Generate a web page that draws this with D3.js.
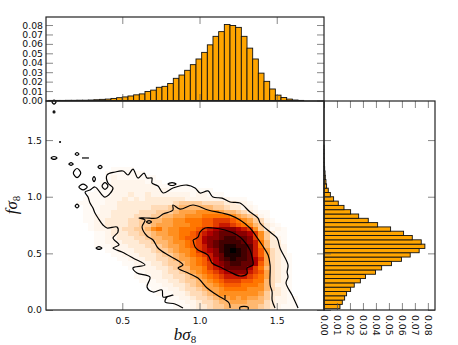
<!DOCTYPE html>
<html>
<head>
<meta charset="utf-8">
<script src="https://cdn.jsdelivr.net/npm/d3@7"></script>
<style>
  html, body { margin: 0; padding: 0; background: #fff; }
  svg { display: block; }
  text { font-family: "DejaVu Sans", sans-serif; font-size: 9.3px; fill: #111; }
  .tick line { stroke: #555; stroke-width: 0.7; }
  .axis-label { font-family: "Liberation Serif", serif; font-style: italic; font-size: 17px; }
</style>
</head>
<body>
<div id="box-chart"></div>
<script>
// marginal histogram of b sigma8, one value per bin
const histXStart = 0.023
const histXStep = 0.0367
const histXValues = [
  .0001, .0001, .0001, .0002, .0002, .0003, .0003, .0005, .0008, .0012, .0015, .0022, .003, .0038, .0048,
  .006, .007, .0095, .011, .014, .015, .018, .0235, .027, .032, .038, .044, .051, .059, .068,
  .073, .0805, .0795, .0775, .068, .0555, .044, .029, .0203, .0122, .0057, .0032, .0015, .0005, .0001
]

// marginal histogram of f sigma8, from the bottom bin up
const histYStart = 0.0115
const histYStep = 0.038
const histYValues = [
  .0123, .0141, .0159, .0174, .0205, .0233, .028, .032, .0397, .0444, .052, .0597, .0664, .0733, .0777, .0749, .068,
  .0613, .0513, .0413, .0341, .0267, .0205, .0154, .011, .0074, .0049, .0033, .002, .0015, .001, .0008, .0005, .0003,
  .0002, .0001, .0001, .0001
]

// density level per bin, rows from the bottom up, one base-36 digit per column
const heatRows = [
  '0000000000 0000000000 0011123345 5666666543 2111',
  '0000000000 0000000000 0111223445 6677766643 2211',
  '0000000000 0000000000 1112234456 7787877653 2211',
  '0000000000 0000000001 1122344567 8888888753 3210',
  '0000000000 0000000011 1223445677 8999988864 3210',
  '0000000000 0000000111 2233456778 9aaa999864 2210',
  '0000000000 0000001112 2334556789 abbbaa9964 3210',
  '0000000000 0000011122 3344567 89a bcccc ba974 3210',
  '0000000000 0000011222 3445678 9ab cdeeecba74 3210',
  '0000000000 0000112223 3456688 9bc dffffdb964 3210',
  '0000000000 0001122233 4556789 abd efggffda74 3210',
  '0000000000 0011222334 4567789 acd fghggfdb74 3210',
  '0000000000 0112223334 5567 89abce fhhhgfca74 321',
  '0000000000 1122233345 5678 89bcde ghihgfca74 320',
  '0000000011 1222333445 6778 9abcef ghhggfc963 320',
  '0000000011 2223334456 6788 9abdef ggggfec963 310',
  '0000000011 2233344566 7789 aabdee fggffeb853 210',
  '0000000011 2333445567 7889 9abcde fffeedb853 110',
  '0000000122 2334455689 7889 99abcd eeedcb8531 210',
  '0000000122 3333445567 7788 899aab ccba986532 100',
  '0000001122 3333445566 7788 999aab bba9875421 000',
  '0000001122 2333344455 6677 888999 9987654210 000',
  '0000001112 2333334445 5567 778888 7665432110 000',
  '0000001112 2233333344 4556 666665 5433221000 000',
  '0000011111 2233333333 3345 555444 4332210000 000',
  '0000001111 2223232333 3333 222222 2211100000 000',
  '0000000111 1222322322 2222 212211 1000000000 000',
  '0000000011 1222222222 2111 111110 0000000000 000',
  '0000000001 1222222221 1111 100000 0000000000 000',
  '0000000001 1222222111 0000 000000 0000000000 000',
  '0000000000 1211111110 0000 000000 0000000000 000',
  '0000000000 1111111000 0000 000000 0000000000 000',
  '0000000000 0111100000 0000 000000 0000000000 000'
]
const heatLevels = [0, .01, .02, .04, .07, .10, .14, .18, .22, .27, .32, .38, .45, .52, .62, .72, .82, .92, 1]

// contour lines, [b sigma8, f sigma8]
const contourOuter = [
  [.893, .018], [.841, .053], [.777, .071], [.790, .115], [.828, .132], [.764, .115], [.757, .177], [.699, .159],
  [.660, .203], [.679, .291], [.595, .327], [.569, .371], [.647, .397], [.569, .459], [.498, .512], [.440, .547],
  [.479, .574], [.440, .635], [.472, .688], [.466, .733], [.401, .724], [.375, .750], [.343, .812], [.323, .856],
  [.310, .900], [.291, .944], [.278, .997], [.259, 1.041], [.291, 1.059], [.323, 1.086], [.388, .997], [.440, 1.077],
  [.407, 1.121], [.401, 1.192], [.453, 1.218], [.505, 1.227], [.537, 1.192], [.569, 1.244], [.602, 1.165], [.641, 1.209],
  [.660, 1.165], [.692, 1.165], [.692, 1.121], [.731, 1.095], [.764, 1.033], [.828, 1.077], [.919, 1.103], [.971, 1.077],
  [1.003, 1.033], [1.055, 1.051], [1.087, .997], [1.146, .988], [1.198, .953], [1.262, .944], [1.327, .865], [1.379, .812],
  [1.392, .768], [1.457, .688], [1.502, .635], [1.521, .547], [1.573, .397], [1.567, .335], [1.573, .291], [1.560, .238],
  [1.599, .132], [1.638, .018]
]
const contourMiddle = [
  [1.198, .018], [1.191, .062], [1.113, .132], [1.049, .194], [.990, .282], [.926, .327], [.861, .371], [.893, .397],
  [.854, .441], [.796, .485], [.731, .547], [.699, .618], [.660, .653], [.628, .733], [.647, .794], [.608, .812],
  [.653, .812], [.725, .812], [.764, .847], [.828, .883], [.828, .927], [.874, .891], [.958, .927], [1.055, .883],
  [1.146, .856], [1.198, .838], [1.262, .794], [1.327, .724], [1.366, .653], [1.405, .574], [1.444, .485], [1.457, .397],
  [1.457, .221], [1.470, .159], [1.470, .088], [1.489, .018]
]
const contourInner = [
  [.958, .618], [.990, .644], [1.003, .688], [1.036, .724], [1.087, .724], [1.165, .706], [1.243, .662], [1.282, .618],
  [1.327, .530], [1.340, .468], [1.346, .397], [1.308, .371], [1.308, .318], [1.262, .300], [1.198, .335], [1.133, .379],
  [1.081, .415], [1.055, .485], [.990, .530], [.971, .556], [.958, .618]
]
const contourBits = [
  [[.239, 1.342], [.284, 1.342]],
  [[1.165, .132], [1.165, .097]],
  [[1.262, 0], [1.262, .026], [1.314, .026], [1.314, 0]]
]
// small closed islands: centre and half extents in data units
const islands = [
  [.058, 1.836, .013, .018], [.058, 1.748, .006, .009], [.097, 1.483, .003, .004], [.058, 1.342, .019, .013],
  [.207, 1.377, .012, .012], [.168, 1.289, .014, .012], [.207, 1.209, .024, .040], [.356, 1.262, .013, .014],
  [.317, 1.156, .009, .022], [.246, 1.086, .027, .026], [.388, 1.094, .019, .030], [.207, .918, .012, .016],
  [.349, .547, .019, .012], [.822, 1.112, .026, .013], [.673, .777, .016, .012]
]

const xTicks = [0.5, 1.0, 1.5]
const yTicks = [0.0, 0.5, 1.0, 1.5]
const histTicks = [0, .01, .02, .03, .04, .05, .06, .07, .08]

const left = 46, mid = 324, right = 435
const top1 = 17, top2 = 101, bottom = 310
const tickLen = 7

const svg = d3.select('#box-chart').append('svg')
  .attr('width', 458)
  .attr('height', 345)

const x_scale = d3.scaleLinear().domain([0.006, 1.806]).range([left, mid])
const y_scale = d3.scaleLinear().domain([0, 1.845]).range([bottom, top2])
const histTop_scale = d3.scaleLinear().domain([0, 0.0885]).range([top2 - 0.5, top1])
const histRight_scale = d3.scaleLinear().domain([0, 0.0855]).range([mid, right])

// gist_heat reversed
const heat = d3.scaleLinear()
  .domain([0, .25, .3, .5, 1])
  .range(['#ffffff', '#ff8000', '#ff6600', '#b60000', '#000000'])

svg.append('clipPath').attr('id', 'main-clip').append('rect')
  .attr('x', left).attr('y', top2).attr('width', mid - left).attr('height', bottom - top2)

// 2d histogram
const cells = []
heatRows.forEach((row, j) => {
  row.replace(/ /g, '').split('').forEach((c, i) => {
    const level = parseInt(c, 36)
    if (level > 0) cells.push({ i, j, t: heatLevels[level] })
  })
})

const main = svg.append('g').attr('clip-path', 'url(#main-clip)')

main.selectAll('.cell')
  .data(cells)
  .enter().append('rect')
  .attr('class', 'cell')
  .attr('x', (d) => x_scale(histXStart + d.i * histXStep))
  .attr('y', (d) => y_scale(histYStart + (d.j + 1) * histYStep))
  .attr('width', x_scale(histXStep) - x_scale(0))
  .attr('height', y_scale(0) - y_scale(histYStep))
  .attr('shape-rendering', 'crispEdges')
  .attr('fill', (d) => heat(d.t))

// contours
const line = d3.line().x((d) => x_scale(d[0])).y((d) => y_scale(d[1])).curve(d3.curveCatmullRom.alpha(0.5))
const contourStyle = (sel) => sel
  .attr('fill', 'none')
  .attr('stroke', '#000')
  .attr('stroke-width', 1.2)
  .attr('stroke-linejoin', 'round')

main.selectAll('.contour')
  .data([contourOuter, contourMiddle, contourInner].concat(contourBits))
  .enter().append('path')
  .attr('class', 'contour')
  .attr('d', line)
  .call(contourStyle)

const loop = d3.line().x((d) => x_scale(d[0])).y((d) => y_scale(d[1])).curve(d3.curveCardinalClosed)
svg.selectAll('.island')
  .data(islands)
  .enter().append('path')
  .attr('class', 'island')
  .attr('d', (d) => loop([[d[0] - d[2], d[1]], [d[0], d[1] + d[3]], [d[0] + d[2], d[1]], [d[0], d[1] - d[3]]]))
  .call(contourStyle)

// top histogram
svg.selectAll('.bar-top')
  .data(histXValues)
  .enter().append('rect')
  .attr('class', 'bar-top')
  .attr('x', (d, i) => x_scale(histXStart + i * histXStep))
  .attr('y', (d) => histTop_scale(d))
  .attr('width', x_scale(histXStep) - x_scale(0))
  .attr('height', (d) => histTop_scale(0) - histTop_scale(d))
  .attr('fill', '#ffa500')
  .attr('stroke', '#111')
  .attr('stroke-width', 0.9)

// right histogram
svg.selectAll('.bar-right')
  .data(histYValues)
  .enter().append('rect')
  .attr('class', 'bar-right')
  .attr('x', mid)
  .attr('y', (d, i) => y_scale(histYStart + (i + 1) * histYStep))
  .attr('width', (d) => histRight_scale(d) - mid)
  .attr('height', y_scale(0) - y_scale(histYStep))
  .attr('fill', '#ffa500')
  .attr('stroke', '#111')
  .attr('stroke-width', 0.9)

// axes, ticks point inward on all sides
const addAxis = (axis, tx, ty) => {
  const g = svg.append('g').attr('transform', 'translate(' + tx + ',' + ty + ')').call(axis)
  g.select('.domain').remove()
  return g
}
const f1 = d3.format('.1f'), f2 = d3.format('.2f')

addAxis(d3.axisBottom(x_scale).tickValues(xTicks).tickFormat(f1).tickSizeInner(-tickLen).tickSizeOuter(0).tickPadding(7), 0, bottom)
addAxis(d3.axisTop(x_scale).tickValues(xTicks).tickFormat('').tickSizeInner(-tickLen).tickSizeOuter(0), 0, top2)
addAxis(d3.axisLeft(y_scale).tickValues(yTicks).tickFormat(f1).tickSizeInner(-tickLen).tickSizeOuter(0).tickPadding(4), left, 0)
addAxis(d3.axisRight(y_scale).tickValues(yTicks).tickFormat('').tickSizeInner(-tickLen).tickSizeOuter(0), mid, 0)

addAxis(d3.axisBottom(x_scale).tickValues(xTicks).tickFormat('').tickSizeInner(-tickLen).tickSizeOuter(0), 0, top2)
addAxis(d3.axisTop(x_scale).tickValues(xTicks).tickFormat('').tickSizeInner(-tickLen).tickSizeOuter(0), 0, top1)
addAxis(d3.axisLeft(histTop_scale).tickValues(histTicks).tickFormat(f2).tickSizeInner(-tickLen).tickSizeOuter(0).tickPadding(3), left, 0)
addAxis(d3.axisRight(histTop_scale).tickValues(histTicks).tickFormat('').tickSizeInner(-tickLen).tickSizeOuter(0), mid, 0)

addAxis(d3.axisTop(histRight_scale).tickValues(histTicks).tickFormat('').tickSizeInner(-tickLen).tickSizeOuter(0), 0, top2)
addAxis(d3.axisLeft(y_scale).tickValues(yTicks).tickFormat('').tickSizeInner(-tickLen).tickSizeOuter(0), mid, 0)
addAxis(d3.axisRight(y_scale).tickValues(yTicks).tickFormat('').tickSizeInner(-tickLen).tickSizeOuter(0), right, 0)
const rightBottom = addAxis(d3.axisBottom(histRight_scale).tickValues(histTicks).tickFormat(f2).tickSizeInner(-tickLen).tickSizeOuter(0), 0, bottom)
rightBottom.selectAll('text')
  .attr('transform', 'rotate(90)')
  .attr('x', 5)
  .attr('y', 0)
  .attr('dy', '0.35em')
  .attr('text-anchor', 'start')

// frames
const frame = (x, y, w, h) => svg.append('rect')
  .attr('x', x).attr('y', y).attr('width', w).attr('height', h)
  .attr('fill', 'none')
  .attr('stroke', '#222')
  .attr('stroke-width', 1.2)

frame(left, top1, mid - left, top2 - top1)
frame(left, top2, mid - left, bottom - top2)
frame(mid, top2, right - mid, bottom - top2)

// axis labels
const xLabel = svg.append('text').attr('class', 'axis-label').attr('x', 185).attr('y', 340).attr('text-anchor', 'middle')
xLabel.append('tspan').text('bσ')
xLabel.append('tspan').attr('dy', 3).style('font-size', '11px').style('font-style', 'normal').text('8')

const yLabel = svg.append('text').attr('class', 'axis-label').attr('text-anchor', 'middle')
  .attr('transform', 'translate(17,205) rotate(-90)')
yLabel.append('tspan').text('fσ')
yLabel.append('tspan').attr('dy', 3).style('font-size', '11px').style('font-style', 'normal').text('8')
</script>
</body>
</html>
